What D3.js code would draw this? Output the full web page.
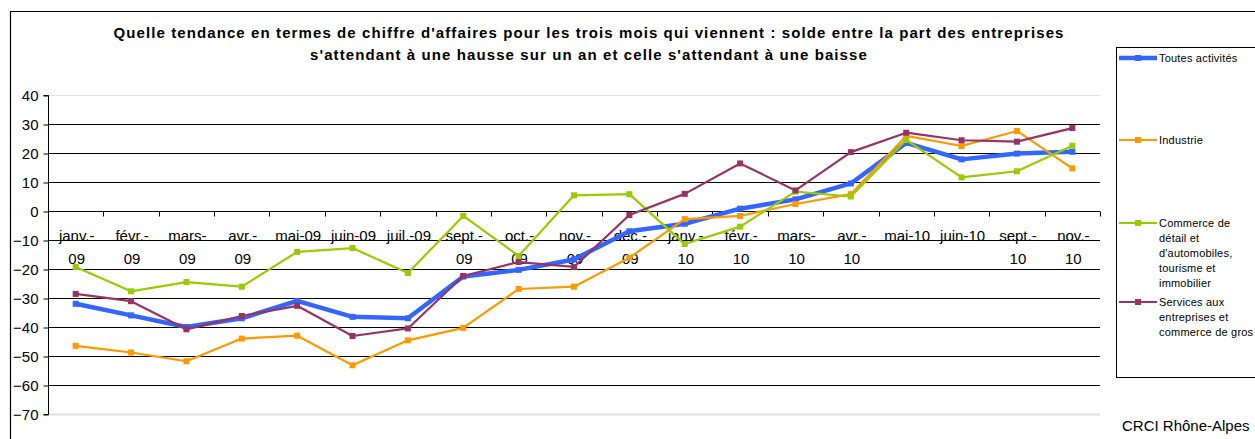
<!DOCTYPE html>
<html><head><meta charset="utf-8">
<script src="https://cdn.jsdelivr.net/npm/d3@7"></script>
<style>
html,body{margin:0;padding:0;background:#fff;}
svg{display:block;font-family:"Liberation Sans",Arial,sans-serif;}
</style></head>
<body>
<svg id="c" width="1255" height="439"></svg>
<script>
const categories = ["janv.-09","févr.-09","mars-09","avr.-09","mai-09","juin-09","juil.-09","sept.-09","oct.-09","nov.-09","déc.-09","janv.-10","févr.-10","mars-10","avr.-10","mai-10","juin-10","sept.-10","nov.-10"];
const tickLabels = [["janv.-","09"],["févr.-","09"],["mars-","09"],["avr.-","09"],["mai-09"],["juin-09"],["juil.-09"],["sept.-","09"],["oct.-","09"],["nov.-","09"],["déc.-","09"],["janv.-","10"],["févr.-","10"],["mars-","10"],["avr.-","10"],["mai-10"],["juin-10"],["sept.-","10"],["nov.-","10"]];
const yTicks = [40,30,20,10,0,-10,-20,-30,-40,-50,-60,-70];
const seriesNames = ["Toutes activités","Industrie","Commerce de détail et d'automobiles, tourisme et immobilier","Services aux entreprises et commerce de gros"];
const toutes   = [-32,-36,-40,-37,-31,-36.5,-37,-22.6,-20.3,-16.7,-7,-4.4,0.8,4,9.5,23.5,17.8,19.8,20.4];
const industrie= [-46.5,-48.8,-51.8,-44,-43,-53.2,-44.6,-40.3,-26.9,-26.1,-16.1,-2.8,-1.7,2.4,5.8,25.9,22.4,27.6,14.7];
const commerce = [-19.3,-27.7,-24.5,-26.1,-14.1,-12.8,-21.4,-1.7,-15.5,5.4,5.8,-11.4,-5.4,6.7,5,24.5,11.6,13.7,22.5];
const services = [-28.6,-31.1,-40.8,-36.2,-32.7,-43.1,-40.5,-22.4,-17.6,-19.3,-1.4,5.9,16.4,7.1,20.3,27,24.4,23.9,28.6];
const legendLines = [["Toutes activités"],["Industrie"],["Commerce de","détail et","d'automobiles,","tourisme et","immobilier"],["Services aux","entreprises et","commerce de gros"]];

const colors = ["#3366FF","#FF9900","#99CC00","#993366"];
const widths = [4.5,2.2,2.2,2.2];
const seriesVals = [toutes, industrie, commerce, services];

const svg = d3.select("#c");
// outer border
svg.append("path").attr("d","M10.5,439 V11.5 H1255").attr("fill","none").attr("stroke","#000").attr("stroke-width",1.2);

// title
const title = svg.append("text").attr("x",589).attr("text-anchor","middle")
  .attr("font-weight","bold").attr("font-size",15).attr("fill","#000").attr("letter-spacing",1.1);
title.append("tspan").attr("x",589).attr("y",38).text("Quelle tendance en termes de chiffre d'affaires pour les trois mois qui viennent : solde entre la part des entreprises");
title.append("tspan").attr("x",589).attr("y",60).text("s'attendant à une hausse sur un an et celle s'attendant à une baisse");

const x0 = 48, x1 = 1100;
const x = d3.scaleBand().domain(categories).range([x0,x1]).paddingInner(0).paddingOuter(0);
const y = d3.scaleLinear().domain([-70,40]).range([414,95]);

// gridlines
svg.append("g").selectAll("line").data(yTicks).join("line")
  .attr("x1",x0).attr("x2",x1)
  .attr("y1",d=>Math.round(y(d))+0.5).attr("y2",d=>Math.round(y(d))+0.5)
  .attr("stroke",d=>(d===40||d===-70)?"#e0e0e0":"#000").attr("stroke-width",d=>(d===-70)?2:1);

// y axis
const yAxis = d3.axisLeft(y).tickValues(yTicks).tickSize(5).tickPadding(5).tickFormat(d3.format("d"));
const gy = svg.append("g").attr("transform",`translate(${x0+0.5},0.5)`).call(yAxis);
gy.select(".domain").attr("stroke","#000").attr("d",`M-5,${y(40)}H0V${y(-70)}H-5`);
gy.selectAll(".tick line").attr("stroke","#000");
gy.selectAll(".tick text").attr("font-size",15).attr("fill","#000").attr("font-family","Liberation Sans, Arial, sans-serif");

// x axis at zero with ticks between categories
const zeroY = Math.round(y(0))+0.5;
svg.append("line").attr("x1",x0).attr("x2",x1).attr("y1",zeroY).attr("y2",zeroY).attr("stroke","#000");
const bounds = categories.map(c=>x(c)).concat([x1]);
svg.append("g").selectAll("line").data(bounds).join("line")
  .attr("x1",d=>Math.round(d)+0.5).attr("x2",d=>Math.round(d)+0.5)
  .attr("y1",zeroY).attr("y2",zeroY+5).attr("stroke","#000");
// category labels
const lab = svg.append("g").attr("font-size",15).attr("fill","#000").attr("text-anchor","middle");
categories.forEach((c,i)=>{
  const cx = x(c)+x.bandwidth()/2+1;
  const t = lab.append("text");
  tickLabels[i].forEach((ln,j)=>{
    t.append("tspan").attr("x",cx).attr("y",zeroY+29+j*23).text(ln);
  });
});

// series
const line = d3.line().x((d,i)=>x(categories[i])+x.bandwidth()/2).y(d=>y(d));
[0,1,2,3].forEach(k=>{
  const g = svg.append("g");
  g.append("path").datum(seriesVals[k]).attr("d",line).attr("fill","none")
    .attr("stroke",colors[k]).attr("stroke-width",widths[k]).attr("stroke-linejoin","round");
  g.selectAll("rect").data(seriesVals[k]).join("rect")
    .attr("x",(d,i)=>x(categories[i])+x.bandwidth()/2-3).attr("y",d=>y(d)-3)
    .attr("width",6).attr("height",6).attr("fill",colors[k]);
});

// legend
svg.append("rect").attr("x",1116.5).attr("y",47.5).attr("width",150).attr("height",330)
  .attr("fill","#fff").attr("stroke","#000").attr("stroke-width",1);
const legY = [58,140,223,302];
const lg = svg.append("g").attr("font-size",11).attr("fill","#000").attr("letter-spacing",0.2);
legendLines.forEach((lines,k)=>{
  const yy = legY[k];
  lg.append("line").attr("x1",1119).attr("x2",1157).attr("y1",yy).attr("y2",yy)
    .attr("stroke",colors[k]).attr("stroke-width",widths[k]);
  lg.append("rect").attr("x",1135).attr("y",yy-3).attr("width",6).attr("height",6).attr("fill",colors[k]);
  const t = lg.append("text");
  lines.forEach((ln,j)=>{
    t.append("tspan").attr("x",1159).attr("y",yy+4+j*15).text(ln);
  });
});

svg.append("text").attr("x",1122).attr("y",431).attr("font-size",15).attr("fill","#000").text("CRCI Rhône-Alpes");
</script>
</body></html>
